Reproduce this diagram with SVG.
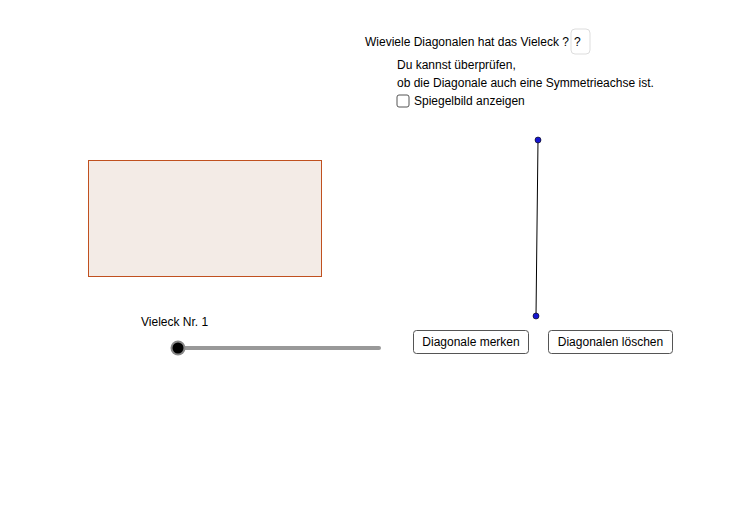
<svg xmlns="http://www.w3.org/2000/svg" width="734" height="513" viewBox="0 0 734 513">
<style>
text{font-family:"Liberation Sans",Arial,sans-serif;font-size:12px;fill:#000}
.btn{fill:#fff;stroke:#555;stroke-width:1}
.pt{fill:#1515d0;stroke:#000;stroke-width:0.6}
</style>
<rect width="734" height="513" fill="#fff"/>
<g id="question">
<text x="365" y="46">Wieviele Diagonalen hat das Vieleck ?</text>
<rect x="571" y="29" width="19" height="25" rx="4" fill="#fff" stroke="#ddd"/>
<text x="574" y="46">?</text>
</g>
<g id="info">
<text x="397" y="69">Du kannst überprüfen,</text>
<text x="397" y="87">ob die Diagonale auch eine Symmetrieachse ist.</text>
</g>
<g id="checkbox">
<rect x="397" y="95" width="12" height="12" rx="2" fill="#fff" stroke="#555"/>
<text x="414" y="105">Spiegelbild anzeigen</text>
</g>
<g id="polygon">
<rect x="88.5" y="160.5" width="233" height="116" fill="#f3ebe6" stroke="#c0501f" stroke-width="1"/>
</g>
<g id="connectors">
<line x1="538" y1="140" x2="536" y2="316" stroke="#000" stroke-width="1"/>
</g>
<g id="pointA"><circle class="pt" cx="538" cy="140" r="3"/></g>
<g id="pointB"><circle class="pt" cx="536" cy="316" r="3"/></g>
<g id="slider">
<text x="141" y="326">Vieleck Nr. 1</text>
<line x1="178" y1="348" x2="379" y2="348" stroke="#999" stroke-width="4" stroke-linecap="round"/>
<circle cx="178" cy="348" r="7.5" fill="#888"/>
<circle cx="178" cy="348" r="5.5" fill="#000"/>
</g>
<g id="btn1">
<rect class="btn" x="413.5" y="330.5" width="115" height="23" rx="3"/>
<text x="471" y="346" text-anchor="middle">Diagonale merken</text>
</g>
<g id="btn2">
<rect class="btn" x="548.5" y="330.5" width="124" height="23" rx="3"/>
<text x="610.5" y="346" text-anchor="middle">Diagonalen löschen</text>
</g>
</svg>
